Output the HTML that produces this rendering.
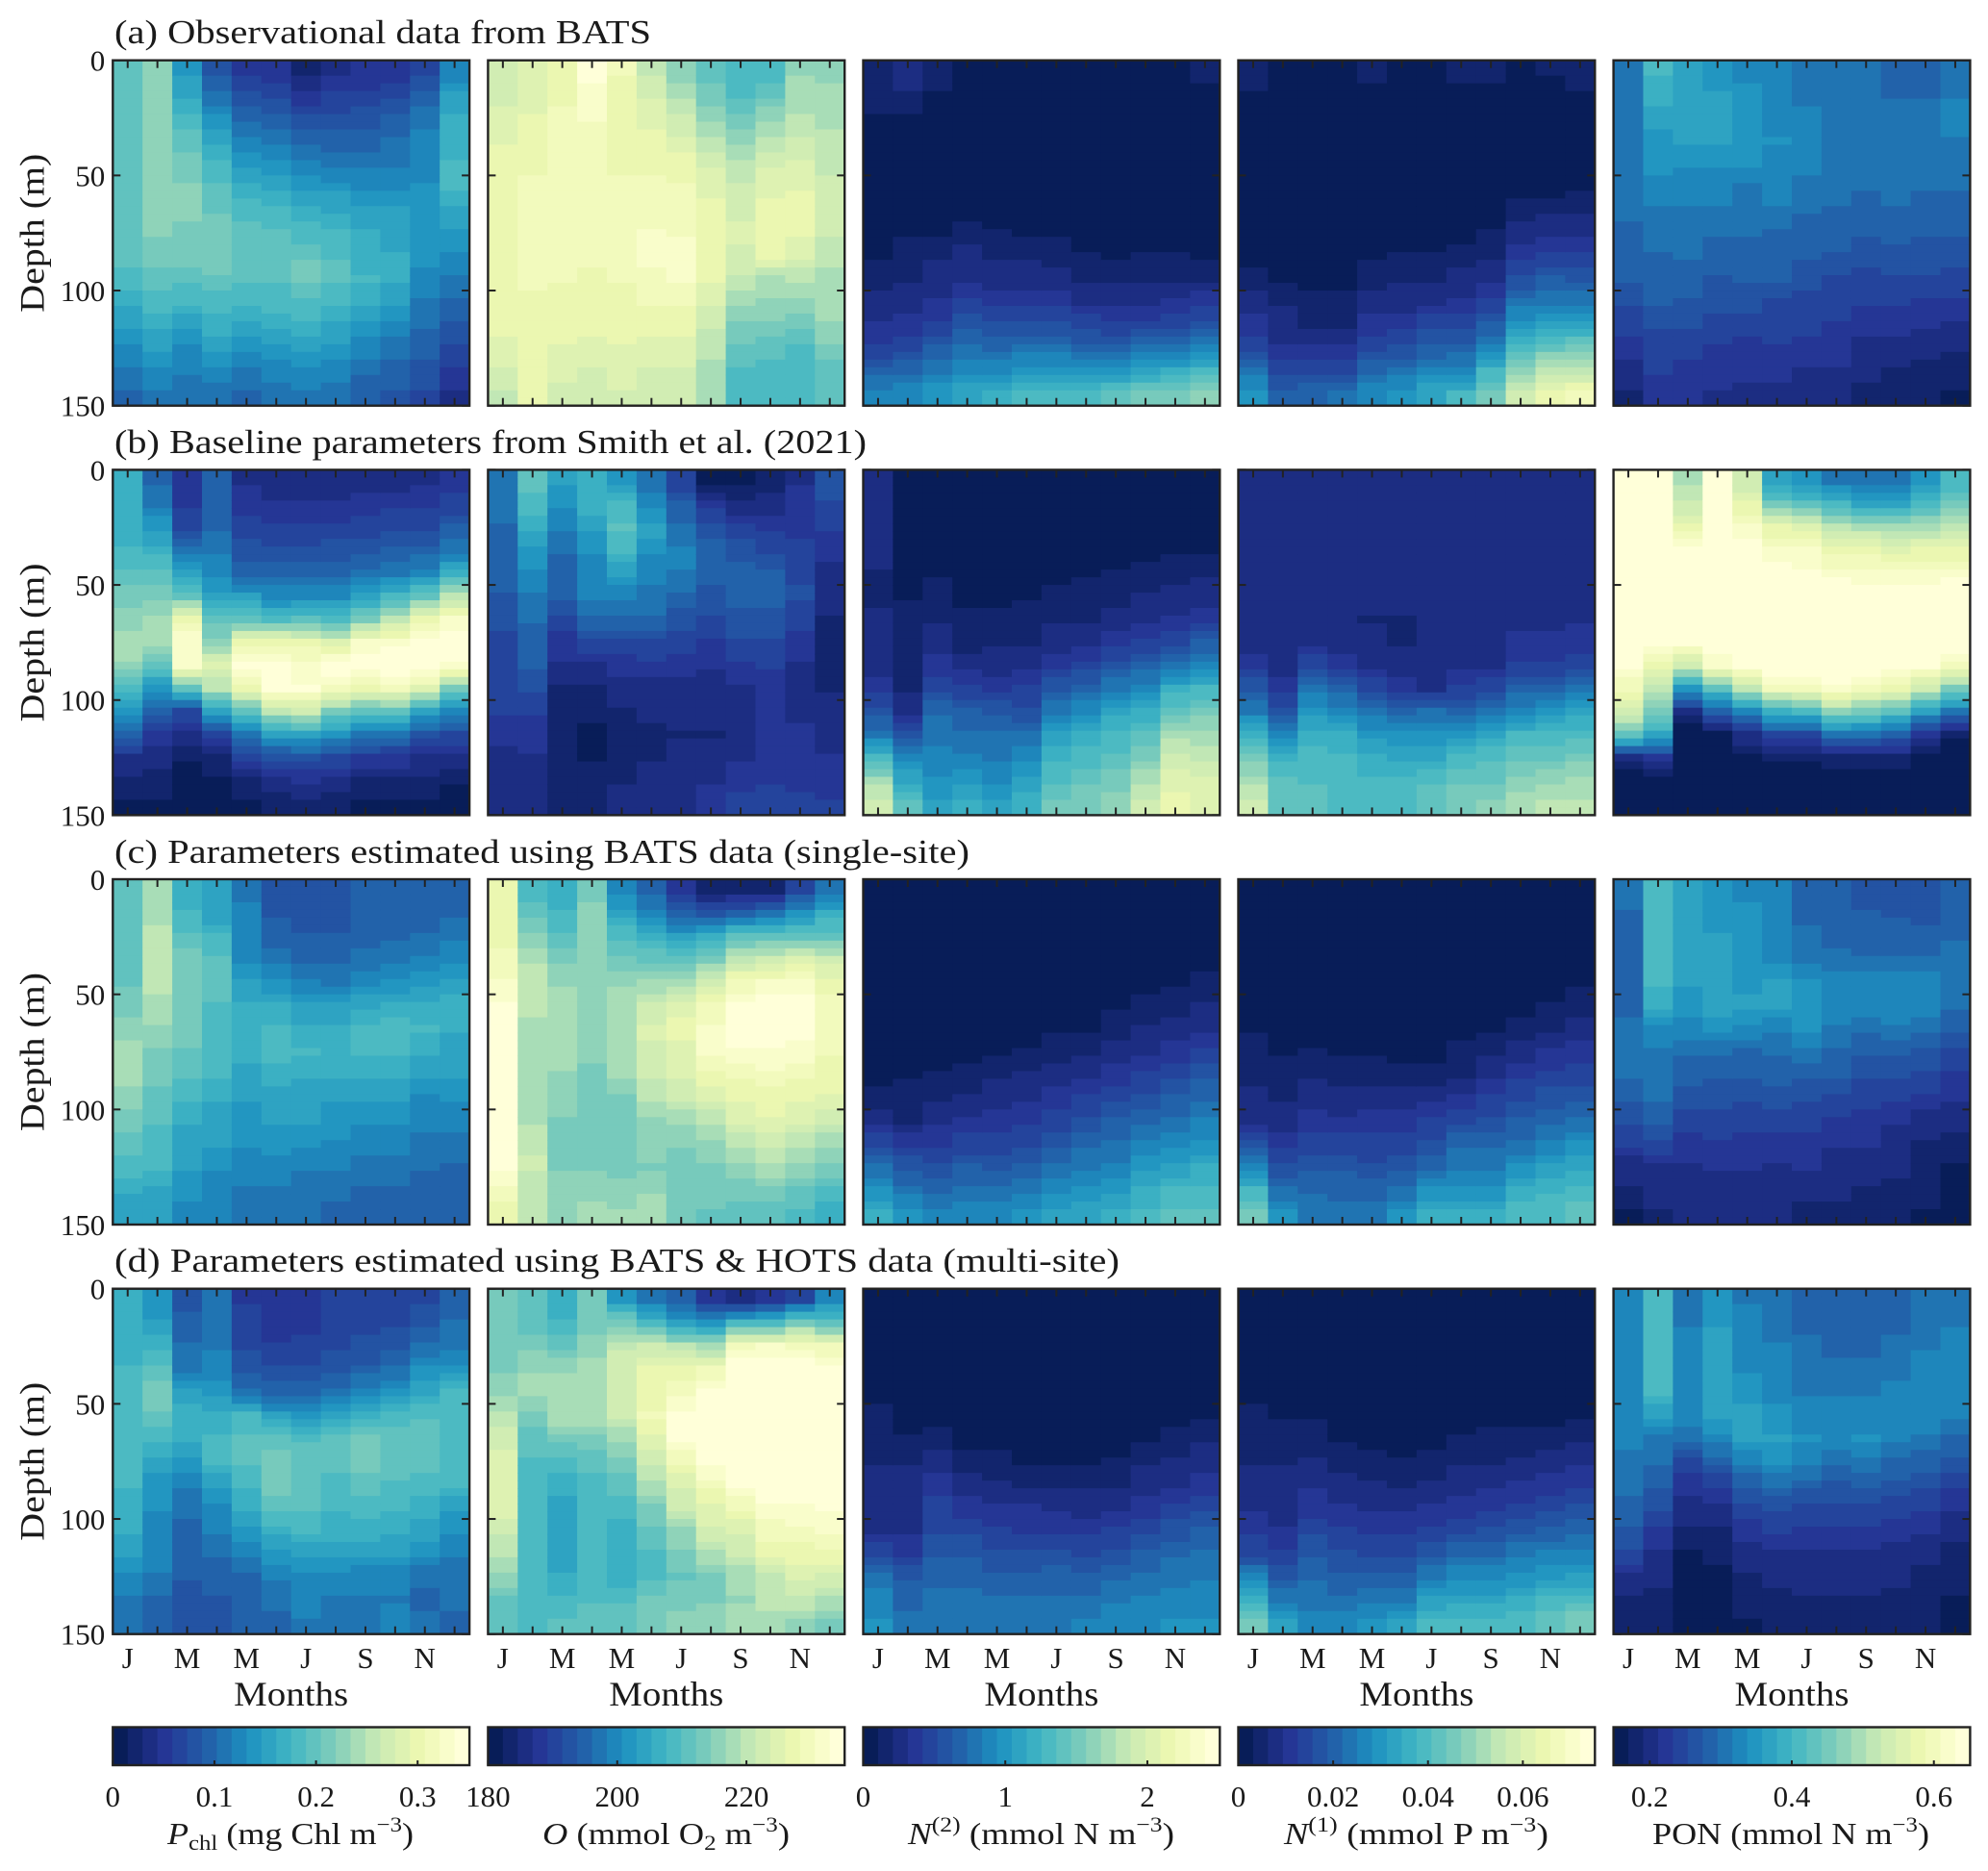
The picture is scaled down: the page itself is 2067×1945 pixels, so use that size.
<!DOCTYPE html>
<html>
<head>
<meta charset="utf-8">
<title>Observed and modelled depth–month heatmaps</title>
<style>
html,body{margin:0;padding:0;background:#fff;}
svg{display:block;}
text{font-family:"Liberation Serif","DejaVu Serif",serif;fill:#1a1a1a;}
.title{font-size:35px;}
.cbt{font-size:32px;}
.it{font-style:italic;}
</style>
</head>
<body>
<svg id="fig" xmlns="http://www.w3.org/2000/svg" width="2067" height="1945" viewBox="0 0 2067 1945">
<rect width="2067" height="1945" fill="#fff"/>
<g id="panels"></g>
<g id="bars"></g>
<text class="title" x="119" y="45" textLength="558" lengthAdjust="spacingAndGlyphs">(a) Observational data from BATS</text>
<text class="title" x="119" y="471" textLength="782" lengthAdjust="spacingAndGlyphs">(b) Baseline parameters from Smith et al. (2021)</text>
<text class="title" x="119" y="897" textLength="889" lengthAdjust="spacingAndGlyphs">(c) Parameters estimated using BATS data (single-site)</text>
<text class="title" x="119" y="1322" textLength="1045" lengthAdjust="spacingAndGlyphs">(d) Parameters estimated using BATS &amp; HOTS data (multi-site)</text>
<text class="cbt" x="174" y="1917" textLength="256" lengthAdjust="spacingAndGlyphs"><tspan class="it">P</tspan><tspan font-size="22" dy="6">chl</tspan><tspan dy="-6"> (mg Chl m</tspan><tspan font-size="22" dy="-13">−3</tspan><tspan dy="13">)</tspan></text>
<text class="cbt" x="564" y="1917" textLength="257" lengthAdjust="spacingAndGlyphs"><tspan class="it">O</tspan><tspan> (mmol O</tspan><tspan font-size="22" dy="6">2</tspan><tspan dy="-6"> m</tspan><tspan font-size="22" dy="-13">−3</tspan><tspan dy="13">)</tspan></text>
<text class="cbt" x="944" y="1917" textLength="277" lengthAdjust="spacingAndGlyphs"><tspan class="it">N</tspan><tspan font-size="22" dy="-13">(2)</tspan><tspan dy="13"> (mmol N m</tspan><tspan font-size="22" dy="-13">−3</tspan><tspan dy="13">)</tspan></text>
<text class="cbt" x="1335" y="1917" textLength="275" lengthAdjust="spacingAndGlyphs"><tspan class="it">N</tspan><tspan font-size="22" dy="-13">(1)</tspan><tspan dy="13"> (mmol P m</tspan><tspan font-size="22" dy="-13">−3</tspan><tspan dy="13">)</tspan></text>
<text class="cbt" x="1718" y="1917" textLength="288" lengthAdjust="spacingAndGlyphs"><tspan>PON (mmol N m</tspan><tspan font-size="22" dy="-13">−3</tspan><tspan dy="13">)</tspan></text>
</svg>
<script>
// Heatmap values: one array per month (Jan..Dec), each holding 15 depth bins (0-10 m ... 140-150 m).
const monthTickLabels = ['J','M','M','J','S','N'];
const monthCount = 12;
const depthStep = 10;
const depthTicks = [0,50,100,150];
const variableNames = ['pchl','oxygen','n2','n1','pon'];
const colorbarMin = [0,180,0,0,0.149];
const colorbarMax = [0.351,235.2,2.51,0.0752,0.651];
const colorbarTicks = [[0,0.1,0.2,0.3],[180,200,220],[0,1,2],[0,0.02,0.04,0.06],[0.2,0.4,0.6]];
const colorLevels = 24;

const a1 = [[.58,.58,.58,.58,.58,.58,.58,.58,.56,.52,.47,.42,.36,.32,.28],[.63,.65,.66,.66,.66,.66,.64,.63,.6,.57,.52,.47,.42,.37,.32],[.4,.45,.52,.56,.6,.63,.63,.62,.6,.56,.5,.43,.37,.34,.3],[.24,.3,.38,.44,.5,.55,.58,.6,.6,.58,.52,.48,.42,.36,.3],[.16,.22,.28,.34,.4,.47,.52,.56,.56,.55,.5,.45,.38,.33,.29],[.13,.2,.27,.33,.38,.45,.5,.55,.56,.55,.52,.46,.4,.36,.3],[.08,.14,.21,.27,.34,.4,.47,.52,.58,.6,.54,.48,.42,.37,.32],[.11,.17,.22,.27,.32,.4,.45,.5,.54,.55,.5,.45,.4,.35,.3],[.13,.18,.23,.27,.32,.37,.42,.46,.48,.5,.46,.4,.35,.3,.27],[.14,.2,.25,.3,.33,.37,.42,.45,.46,.46,.42,.36,.31,.27,.24],[.2,.25,.32,.34,.36,.38,.39,.4,.39,.36,.33,.3,.27,.23,.2],[.34,.42,.46,.48,.5,.5,.45,.41,.37,.33,.28,.24,.2,.16,.12]];
const a2 = [[.76,.78,.8,.83,.85,.86,.87,.87,.87,.86,.85,.84,.82,.78,.74],[.8,.8,.84,.86,.87,.88,.88,.88,.88,.88,.87,.86,.85,.85,.87],[.86,.87,.88,.89,.89,.89,.89,.89,.88,.88,.86,.85,.83,.8,.78],[.97,.94,.92,.9,.89,.89,.89,.89,.88,.87,.85,.84,.82,.78,.76],[.88,.86,.85,.86,.87,.88,.89,.9,.89,.88,.86,.85,.83,.82,.78],[.74,.78,.82,.85,.87,.88,.9,.92,.92,.91,.88,.85,.82,.78,.76],[.64,.7,.76,.8,.86,.88,.9,.91,.93,.92,.88,.85,.82,.78,.76],[.56,.6,.66,.72,.78,.82,.84,.85,.85,.84,.8,.76,.72,.7,.67],[.5,.54,.6,.66,.72,.76,.78,.8,.78,.74,.68,.62,.58,.54,.52],[.52,.58,.66,.72,.78,.82,.85,.85,.84,.7,.66,.62,.56,.52,.52],[.66,.68,.72,.76,.8,.83,.84,.84,.8,.72,.66,.6,.54,.52,.52],[.65,.68,.7,.72,.74,.76,.76,.76,.72,.7,.68,.66,.62,.56,.55]];
const a3 = [[.08,.06,.04,.02,.02,.02,.02,.02,.03,.07,.1,.13,.18,.26,.36],[.09,.08,.04,.04,.03,.02,.04,.04,.07,.08,.1,.14,.2,.28,.36],[.05,.04,.04,.02,.02,.02,.03,.04,.08,.1,.13,.18,.25,.33,.4],[.04,.02,0,0,0,0,.02,.07,.1,.12,.17,.24,.3,.37,.44],[.04,.02,0,0,0,0,0,.05,.08,.1,.14,.22,.28,.36,.46],[.03,0,0,0,0,0,0,.04,.08,.1,.14,.22,.3,.4,.5],[.03,0,0,0,0,0,0,.03,.07,.1,.15,.22,.3,.4,.52],[.03,0,0,0,0,0,0,0,.05,.08,.12,.2,.26,.38,.54],[.03,0,0,0,0,0,0,0,.04,.08,.12,.18,.26,.4,.56],[.03,0,0,0,0,0,0,0,.05,.08,.12,.18,.3,.44,.6],[.04,0,0,0,0,0,0,0,.05,.08,.13,.2,.32,.46,.62],[.07,.02,0,0,0,0,0,0,.03,.08,.15,.22,.34,.5,.66]];
const a4 = [[.07,.04,.02,0,0,0,0,0,.02,.06,.1,.14,.2,.3,.4],[.04,.03,0,0,0,0,0,0,.02,.03,.08,.1,.13,.2,.26],[.04,.03,.02,0,0,0,0,0,.02,.03,.05,.08,.14,.2,.28],[.04,.02,0,0,0,0,0,0,0,.02,.06,.08,.14,.2,.3],[.05,.03,.02,0,0,0,0,.02,.03,.07,.1,.14,.2,.28,.36],[.04,.03,0,0,0,0,0,.02,.05,.08,.1,.15,.22,.3,.4],[.04,.03,0,0,0,0,0,.02,.05,.08,.12,.2,.26,.35,.45],[.05,.03,.02,0,0,0,0,.03,.06,.1,.13,.2,.27,.36,.5],[.05,.03,.02,0,0,0,.02,.05,.08,.12,.18,.25,.36,.5,.6],[.04,.02,0,0,0,.02,.07,.1,.16,.22,.3,.4,.52,.65,.78],[.05,.02,0,0,0,.02,.08,.12,.18,.25,.32,.45,.58,.72,.86],[.07,.04,0,0,0,.03,.08,.12,.17,.24,.32,.44,.6,.74,.88]];
const a5 = [[.3,.3,.31,.33,.33,.32,.31,.28,.27,.25,.22,.18,.15,.1,.08],[.5,.47,.44,.4,.38,.37,.33,.32,.28,.28,.25,.22,.18,.17,.14],[.42,.42,.42,.42,.38,.36,.33,.3,.3,.27,.24,.22,.17,.16,.15],[.38,.42,.42,.42,.38,.36,.33,.3,.27,.24,.22,.2,.16,.14,.12],[.37,.38,.38,.38,.38,.33,.32,.3,.27,.25,.23,.18,.15,.14,.11],[.34,.36,.36,.38,.36,.34,.33,.28,.27,.25,.2,.18,.16,.14,.1],[.32,.32,.34,.34,.34,.32,.3,.27,.25,.22,.2,.18,.15,.12,.1],[.3,.3,.32,.33,.33,.3,.29,.27,.24,.2,.18,.16,.14,.12,.1],[.3,.3,.3,.31,.31,.3,.27,.25,.22,.19,.17,.14,.11,.1,.06],[.28,.29,.3,.3,.31,.31,.29,.26,.23,.2,.17,.14,.11,.08,.06],[.29,.29,.31,.31,.31,.3,.27,.25,.23,.2,.16,.13,.1,.07,.05],[.33,.33,.34,.33,.32,.3,.27,.25,.22,.2,.15,.12,.09,.06,.04]];

const b1 = [[.46,.46,.47,.5,.55,.6,.64,.68,.66,.5,.38,.28,.12,.07,.03],[.28,.33,.4,.48,.55,.62,.68,.68,.56,.4,.27,.14,.1,.07,.04],[.14,.16,.2,.3,.42,.58,.87,.95,.92,.55,.2,.1,.05,.02,.01],[.28,.28,.28,.33,.36,.42,.55,.65,.8,.72,.42,.2,.08,.03,.01],[.12,.15,.19,.22,.28,.42,.56,.85,.96,.85,.55,.32,.18,.08,.04],[.09,.13,.18,.22,.28,.36,.52,.87,.98,.96,.72,.42,.22,.12,.05],[.09,.13,.18,.22,.28,.36,.55,.84,.95,.96,.75,.45,.22,.13,.06],[.1,.13,.18,.23,.28,.37,.52,.8,1,.9,.62,.38,.2,.1,.06],[.1,.14,.19,.24,.3,.42,.62,.92,1,.85,.55,.32,.16,.08,.04],[.11,.15,.2,.25,.33,.5,.72,.95,1,.9,.55,.3,.15,.08,.03],[.12,.16,.2,.27,.36,.58,.86,1,1,.82,.44,.22,.11,.07,.03],[.14,.18,.25,.32,.48,.72,.92,1,.95,.62,.35,.2,.11,.05,.02]];
const b2 = [[.3,.3,.29,.28,.28,.24,.22,.2,.2,.2,.17,.14,.1,.1,.1],[.56,.52,.46,.4,.37,.33,.3,.25,.25,.22,.17,.14,.12,.1,.09],[.42,.38,.34,.3,.25,.25,.2,.14,.12,.08,.06,.05,.05,.06,.08],[.47,.48,.42,.38,.36,.34,.28,.2,.12,.08,.05,.03,.04,.06,.08],[.38,.52,.55,.5,.42,.35,.28,.2,.14,.1,.08,.05,.05,.08,.09],[.3,.36,.44,.38,.34,.32,.28,.2,.15,.11,.09,.07,.08,.1,.1],[.18,.26,.3,.34,.33,.28,.23,.18,.14,.11,.1,.08,.09,.1,.12],[.03,.14,.22,.28,.26,.24,.2,.16,.13,.11,.09,.08,.1,.12,.14],[.03,.1,.17,.23,.28,.26,.24,.2,.16,.12,.12,.11,.12,.15,.18],[.05,.1,.15,.2,.25,.26,.24,.2,.17,.14,.13,.13,.15,.16,.18],[.12,.16,.16,.17,.2,.22,.18,.15,.12,.12,.12,.13,.15,.16,.17],[.23,.2,.17,.15,.11,.09,.08,.07,.07,.08,.09,.1,.13,.15,.17]];
const b3 = [[.09,.09,.09,.09,.08,.07,.09,.09,.1,.15,.22,.32,.5,.68,.78],[0,0,.01,.03,.04,.04,.05,.08,.07,.08,.12,.22,.35,.45,.55],[0,0,.02,.03,.04,.05,.08,.1,.14,.2,.28,.32,.35,.38,.42],[.04,.03,.03,.03,.03,.03,.05,.07,.1,.18,.25,.3,.34,.4,.46],[0,0,0,.02,.03,.03,.05,.08,.1,.16,.24,.3,.33,.36,.44],[0,0,0,.02,.03,.04,.06,.08,.12,.17,.22,.3,.36,.42,.48],[0,0,0,.02,.03,.06,.08,.1,.16,.24,.32,.42,.48,.54,.6],[0,0,0,.02,.04,.06,.08,.12,.18,.28,.36,.46,.52,.58,.62],[0,0,.02,.02,.05,.07,.1,.14,.22,.33,.44,.5,.56,.6,.64],[0,0,.02,.03,.06,.09,.12,.17,.26,.36,.46,.56,.62,.7,.76],[0,0,.02,.03,.07,.1,.13,.2,.32,.46,.58,.7,.76,.82,.84],[0,0,.02,.04,.08,.1,.14,.25,.36,.5,.6,.68,.74,.8,.82]];
const b4 = [[.12,.12,.12,.12,.11,.11,.11,.1,.15,.24,.33,.48,.62,.68,.78],[.09,.09,.09,.09,.09,.09,.09,.09,.1,.15,.22,.36,.48,.55,.58],[.09,.09,.09,.09,.09,.09,.1,.12,.2,.3,.4,.48,.52,.54,.55],[.09,.09,.09,.09,.09,.09,.09,.1,.15,.26,.36,.46,.5,.52,.54],[.12,.12,.1,.09,.09,.09,.08,.09,.1,.2,.3,.4,.48,.5,.54],[.12,.12,.12,.11,.1,.1,.08,.08,.1,.14,.28,.4,.44,.5,.54],[.09,.09,.09,.1,.1,.1,.09,.09,.09,.12,.3,.38,.44,.54,.56],[.09,.09,.09,.1,.1,.1,.1,.11,.12,.17,.28,.38,.5,.58,.6],[.09,.09,.09,.1,.1,.1,.1,.11,.12,.2,.3,.42,.54,.58,.64],[.09,.09,.09,.1,.1,.1,.12,.13,.17,.27,.36,.5,.58,.64,.7],[.09,.09,.09,.09,.1,.1,.12,.13,.17,.28,.4,.5,.58,.66,.72],[.09,.09,.09,.09,.09,.09,.12,.14,.2,.32,.44,.52,.6,.68,.72]];
const b5 = [[1,1,1,1,1,1,1,1,.98,.88,.78,.58,.1,0,0],[1,1,1,1,1,1,1,.97,.86,.72,.6,.45,.15,0,0],[.7,.75,.85,1,1,1,1,.98,.75,.4,.12,0,0,0,0],[1,1,1,1,1,1,1,1,.92,.55,.25,.03,0,0,0],[.75,.85,.92,1,1,1,1,1,1,.72,.35,.12,.02,0,0],[.42,.6,.84,.92,1,1,1,1,1,.88,.48,.2,.06,0,0],[.38,.55,.8,.92,.97,1,1,1,1,.88,.5,.2,.06,0,0],[.32,.5,.72,.86,.94,1,1,1,1,.95,.65,.3,.08,0,0],[.3,.45,.7,.85,.93,1,1,1,1,.9,.6,.3,.07,0,0],[.3,.45,.68,.82,.93,1,1,1,1,.85,.55,.25,.08,0,0],[.38,.52,.7,.84,.92,1,1,1,.98,.75,.42,.14,.02,0,0],[.5,.6,.72,.84,.94,1,1,1,.9,.62,.32,.06,0,0,0]];

const c1 = [[.57,.56,.56,.58,.58,.6,.64,.68,.68,.64,.6,.56,.52,.46,.44],[.7,.7,.72,.72,.72,.7,.66,.62,.6,.57,.55,.52,.5,.44,.42],[.48,.5,.55,.6,.62,.62,.6,.58,.55,.5,.46,.44,.42,.38,.37],[.42,.42,.5,.55,.56,.54,.53,.52,.5,.46,.44,.42,.38,.36,.35],[.32,.34,.34,.37,.42,.46,.47,.47,.44,.42,.4,.38,.35,.33,.32],[.24,.24,.27,.31,.38,.46,.5,.52,.47,.44,.42,.39,.35,.33,.32],[.22,.24,.25,.28,.34,.43,.47,.5,.46,.44,.42,.38,.34,.31,.3],[.22,.22,.25,.28,.32,.42,.47,.47,.46,.42,.4,.37,.34,.3,.28],[.25,.25,.28,.3,.36,.45,.5,.5,.46,.43,.38,.35,.32,.28,.26],[.25,.25,.28,.33,.38,.48,.52,.5,.46,.43,.38,.34,.32,.28,.25],[.25,.26,.3,.34,.4,.47,.5,.46,.42,.37,.34,.32,.3,.27,.25],[.26,.28,.32,.36,.42,.48,.46,.44,.42,.38,.34,.32,.28,.26,.25]];
const c2 = [[.85,.85,.87,.88,.92,.96,.98,.99,.99,.99,.99,.98,.96,.9,.85],[.52,.58,.64,.7,.74,.72,.7,.68,.68,.68,.7,.74,.76,.72,.74],[.46,.5,.56,.62,.66,.68,.68,.68,.66,.64,.62,.62,.62,.64,.66],[.6,.64,.64,.63,.63,.63,.64,.66,.6,.6,.6,.62,.62,.64,.68],[.36,.42,.54,.6,.66,.7,.7,.7,.68,.62,.62,.62,.62,.63,.68],[.26,.36,.48,.58,.68,.76,.8,.78,.76,.72,.66,.64,.62,.66,.68],[.14,.27,.42,.58,.7,.82,.84,.82,.8,.76,.68,.63,.6,.6,.62],[.06,.24,.48,.62,.78,.88,.92,.92,.86,.8,.72,.66,.62,.6,.58],[.06,.28,.55,.74,.88,.98,1,.95,.88,.84,.8,.72,.66,.6,.56],[.07,.3,.56,.78,.92,1,1,.95,.9,.86,.82,.76,.7,.62,.56],[.2,.38,.58,.82,.92,.98,.98,.94,.88,.84,.8,.72,.66,.58,.54],[.32,.46,.58,.76,.86,.9,.9,.88,.86,.82,.76,.68,.62,.52,.48]];
const c3 = [[0,0,0,0,0,0,0,0,.03,.05,.1,.2,.3,.38,.48],[0,0,0,0,0,0,0,.02,.03,.07,.08,.16,.24,.3,.4],[0,0,0,0,0,0,.02,.02,.05,.08,.12,.16,.22,.28,.34],[0,0,0,0,0,0,0,.02,.06,.09,.14,.18,.25,.3,.36],[0,0,0,0,0,0,.02,.03,.08,.1,.14,.18,.24,.3,.36],[0,0,0,0,0,0,.02,.05,.09,.12,.16,.2,.26,.32,.4],[0,0,0,0,0,.02,.03,.07,.1,.14,.18,.24,.3,.36,.42],[0,0,0,0,0,.02,.04,.08,.12,.17,.22,.28,.33,.38,.44],[0,0,0,0,.02,.04,.06,.1,.14,.2,.26,.3,.34,.4,.46],[0,0,0,0,.02,.06,.09,.12,.18,.22,.28,.34,.4,.46,.5],[0,0,0,.02,.04,.07,.1,.14,.2,.25,.3,.36,.42,.5,.55],[0,0,0,.03,.05,.09,.12,.18,.24,.28,.34,.38,.46,.5,.56]];
const c4 = [[.03,.03,.03,.03,.03,.03,.04,.05,.07,.1,.12,.22,.35,.5,.6],[0,0,0,0,0,.01,.02,.04,.06,.08,.1,.16,.22,.3,.38],[0,0,0,0,0,0,.02,.05,.08,.1,.14,.18,.24,.28,.32],[0,0,0,0,0,0,0,.03,.07,.09,.14,.18,.24,.28,.3],[0,0,0,0,0,0,0,.03,.07,.1,.14,.18,.22,.27,.32],[0,0,0,0,0,0,0,.02,.06,.1,.14,.18,.23,.3,.38],[0,0,0,0,0,0,.01,.03,.06,.12,.18,.22,.28,.38,.48],[0,0,0,0,0,0,.03,.06,.08,.14,.2,.28,.32,.38,.46],[0,0,0,0,0,.02,.04,.08,.12,.17,.22,.28,.32,.38,.46],[0,0,0,0,0,.03,.06,.1,.15,.2,.25,.3,.38,.46,.52],[0,0,0,0,.02,.05,.08,.13,.18,.23,.28,.34,.42,.48,.54],[0,0,0,0,.04,.07,.1,.14,.18,.24,.3,.38,.44,.5,.58]];
const c5 = [[.3,.29,.28,.28,.28,.28,.3,.32,.3,.25,.22,.17,.1,.08,.04],[.52,.52,.52,.5,.5,.46,.37,.33,.3,.3,.26,.2,.12,.1,.08],[.42,.42,.42,.42,.42,.4,.36,.3,.26,.24,.18,.15,.12,.1,.09],[.38,.38,.42,.42,.44,.44,.38,.3,.26,.22,.19,.16,.13,.1,.09],[.37,.38,.38,.38,.4,.43,.36,.28,.25,.22,.18,.15,.13,.11,.09],[.36,.34,.34,.36,.42,.44,.34,.3,.27,.23,.18,.15,.12,.1,.09],[.27,.28,.3,.33,.38,.4,.4,.32,.26,.22,.18,.15,.13,.1,.07],[.25,.26,.28,.3,.36,.36,.33,.28,.25,.2,.15,.13,.11,.09,.07],[.24,.25,.27,.3,.36,.36,.3,.26,.22,.18,.15,.13,.1,.08,.07],[.23,.24,.27,.3,.36,.37,.33,.26,.22,.17,.13,.11,.09,.07,.07],[.24,.24,.26,.3,.36,.35,.3,.24,.2,.16,.1,.08,.06,.05,.04],[.25,.26,.28,.32,.33,.3,.26,.2,.16,.13,.09,.07,.04,.03,.02]];

const d1 = [[.48,.48,.48,.5,.52,.5,.5,.5,.5,.48,.46,.44,.36,.32,.3],[.4,.42,.48,.56,.6,.58,.52,.44,.4,.38,.36,.34,.33,.28,.27],[.24,.26,.3,.33,.42,.48,.46,.4,.34,.3,.28,.27,.25,.24,.22],[.3,.31,.33,.36,.4,.48,.5,.5,.42,.36,.34,.3,.27,.24,.21],[.16,.18,.2,.24,.3,.5,.55,.55,.5,.46,.4,.34,.28,.25,.25],[.14,.15,.17,.22,.27,.42,.56,.62,.62,.56,.48,.4,.34,.3,.28],[.14,.15,.18,.21,.27,.4,.54,.58,.58,.55,.5,.42,.36,.34,.33],[.17,.17,.2,.24,.3,.42,.55,.58,.52,.5,.48,.43,.36,.33,.33],[.18,.19,.22,.26,.36,.48,.6,.62,.56,.52,.48,.42,.34,.33,.33],[.18,.2,.24,.3,.38,.52,.58,.58,.54,.5,.46,.42,.34,.33,.34],[.2,.24,.3,.38,.44,.54,.56,.56,.52,.48,.44,.38,.3,.28,.3],[.25,.3,.32,.4,.5,.54,.54,.52,.5,.42,.38,.34,.3,.3,.28]];
const d2 = [[.62,.62,.62,.62,.64,.72,.78,.8,.82,.82,.76,.72,.66,.58,.58],[.55,.56,.62,.66,.68,.62,.56,.54,.52,.52,.52,.5,.5,.5,.54],[.46,.5,.58,.66,.7,.7,.6,.52,.48,.44,.44,.44,.46,.5,.56],[.62,.6,.64,.7,.7,.7,.62,.56,.52,.5,.5,.5,.5,.54,.58],[.4,.62,.74,.78,.78,.76,.68,.62,.56,.52,.48,.46,.46,.54,.58],[.32,.5,.76,.84,.86,.88,.82,.76,.7,.62,.58,.54,.54,.6,.62],[.28,.42,.72,.84,.9,.97,.97,.88,.8,.75,.65,.62,.58,.6,.64],[.15,.4,.68,.88,.96,1,1,.96,.9,.82,.78,.7,.6,.62,.66],[.12,.5,.9,1,1,1,1,1,.96,.88,.8,.76,.68,.66,.7],[.14,.52,.92,1,1,1,1,1,1,.94,.9,.84,.74,.72,.7],[.2,.62,.9,1,1,1,1,1,.98,.95,.9,.86,.8,.74,.66],[.36,.55,.88,.97,1,1,1,1,1,.96,.92,.86,.78,.7,.62]];
const d3 = [[.03,.03,.03,.03,.03,.05,.08,.08,.1,.11,.12,.2,.3,.35,.38],[0,0,0,0,0,.02,.05,.08,.1,.1,.12,.16,.24,.28,.3],[0,0,0,0,0,.02,.06,.1,.14,.18,.2,.24,.28,.3,.32],[0,0,0,0,0,0,.03,.06,.1,.14,.2,.24,.28,.3,.3],[0,0,0,0,0,0,.02,.06,.09,.13,.18,.22,.26,.3,.3],[0,0,0,0,0,0,0,.03,.08,.13,.16,.22,.26,.3,.32],[0,0,0,0,0,0,0,.03,.08,.12,.15,.22,.27,.3,.32],[0,0,0,0,0,0,0,.04,.08,.11,.15,.2,.26,.3,.34],[0,0,0,0,0,0,.02,.05,.08,.12,.17,.22,.28,.32,.36],[0,0,0,0,0,0,.03,.08,.1,.14,.2,.26,.3,.34,.36],[0,0,0,0,0,.02,.06,.09,.12,.18,.23,.28,.32,.35,.38],[0,0,0,0,0,.04,.08,.1,.14,.2,.26,.3,.33,.36,.38]];
const d4 = [[.03,.03,.03,.03,.03,.06,.07,.08,.1,.12,.16,.2,.34,.46,.6],[.03,.03,.03,.03,.02,.04,.07,.08,.1,.1,.13,.18,.24,.32,.42],[.03,.03,.03,.03,.02,.04,.06,.09,.12,.14,.2,.24,.28,.32,.34],[0,0,0,0,0,0,.04,.07,.1,.13,.18,.22,.26,.3,.36],[0,0,0,0,0,0,.02,.06,.09,.11,.16,.2,.26,.32,.38],[0,0,0,0,0,0,.02,.05,.08,.11,.16,.2,.25,.33,.42],[0,0,0,0,0,0,.03,.06,.09,.13,.18,.24,.32,.42,.52],[0,0,0,0,0,0,.05,.08,.1,.14,.2,.28,.36,.44,.52],[0,0,0,0,0,.02,.06,.08,.12,.16,.22,.28,.36,.44,.5],[0,0,0,0,0,.03,.06,.09,.13,.17,.24,.32,.38,.46,.52],[0,0,0,0,0,.03,.06,.1,.14,.2,.26,.34,.4,.5,.58],[0,0,0,0,0,.03,.08,.12,.16,.22,.28,.35,.42,.52,.62]];
const d5 = [[.36,.36,.36,.37,.37,.37,.35,.32,.3,.28,.24,.2,.12,.08,.05],[.54,.52,.52,.52,.5,.42,.33,.3,.26,.22,.16,.12,.1,.07,.06],[.33,.33,.35,.37,.37,.35,.3,.2,.14,.1,.08,.04,.02,0,0],[.38,.41,.43,.43,.42,.42,.36,.27,.17,.12,.08,.05,.03,0,0],[.33,.34,.36,.37,.4,.44,.44,.34,.26,.2,.14,.1,.08,.05,.04],[.3,.3,.34,.35,.36,.4,.42,.38,.3,.22,.17,.12,.09,.07,.05],[.26,.28,.3,.32,.33,.36,.38,.34,.27,.2,.16,.12,.09,.08,.07],[.25,.26,.28,.31,.32,.36,.35,.3,.24,.2,.15,.12,.09,.08,.07],[.27,.27,.28,.3,.33,.35,.38,.33,.27,.2,.16,.12,.1,.08,.06],[.28,.28,.3,.32,.35,.36,.34,.28,.24,.18,.14,.11,.09,.07,.06],[.3,.3,.33,.34,.36,.36,.32,.27,.22,.17,.13,.1,.07,.06,.05],[.33,.33,.34,.36,.36,.34,.28,.24,.18,.13,.09,.07,.05,.04,.03]];

const rowNames = ['a','b','c','d'];
const grid = [[a1,a2,a3,a4,a5],[b1,b2,b3,b4,b5],[c1,c2,c3,c4,c5],[d1,d2,d3,d4,d5]];

const NS = 'http://www.w3.org/2000/svg';
const panelLefts = [117.3,507.4,897.5,1287.5,1677.6];
const panelWidth = 370.8;
const panelTops = [62.7,488.4,914,1339.7];
const panelHeight = 359;
const frameColor = '#222';
const shadingSteps = 3;
const anchors = [[8,29,88],[37,52,148],[34,94,168],[29,145,192],[65,182,196],[127,205,187],[199,233,180],[237,248,177],[255,255,217]];

function make(tag, attrs, parent, txt){
  const el = document.createElementNS(NS, tag);
  for(const k in attrs) el.setAttribute(k, attrs[k]);
  if(txt !== undefined) el.textContent = txt;
  parent.appendChild(el);
  return el;
}
function colorFor(t){
  const c = Math.max(0, Math.min(1, t));
  const lvl = Math.min(colorLevels - 1, Math.floor(c * colorLevels)) / (colorLevels - 1);
  const p = lvl * (anchors.length - 1);
  const i = Math.min(anchors.length - 2, Math.floor(p));
  const f = p - i;
  const rgb = [0,1,2].map(n => Math.round(anchors[i][n] + (anchors[i+1][n] - anchors[i][n]) * f));
  return 'rgb(' + rgb.join(',') + ')';
}
function xScale(left, month){ return left + month / monthCount * panelWidth; }
function yScale(top, depth){ return top + depth / 150 * panelHeight; }
function cbScale(v, col){ return panelLefts[col] + (v - colorbarMin[col]) / (colorbarMax[col] - colorbarMin[col]) * panelWidth; }
// Vertical shading: the colour of a strip inside a depth bin blends toward the neighbouring bin.
function shadeAt(col, k, j){
  const pos = (j + 0.5) / shadingSteps - 0.5;
  const other = pos < 0 ? Math.max(0, k - 1) : Math.min(col.length - 1, k + 1);
  const w = Math.abs(pos);
  return col[k] * (1 - w) + col[other] * w;
}

const panelsRoot = document.getElementById('panels');
grid.forEach(function(row, r){
  const top = panelTops[r];
  row.forEach(function(series, c){
    const left = panelLefts[c];
    const g = make('g', {}, panelsRoot);
    
    
    series.forEach(function(col, m){
      col.forEach(function(v, k){
        const x0 = xScale(left, m), x1 = xScale(left, m + 1);
        for(let j = 0; j < shadingSteps; j++){
          const y0 = yScale(top, (k + j / shadingSteps) * depthStep);
          const y1 = yScale(top, (k + (j + 1) / shadingSteps) * depthStep);
          const last = k === col.length - 1 && j === shadingSteps - 1;
          const cell = make('rect', {x:x0, y:y0, width:x1 - x0 + (m < monthCount - 1 ? 0.6 : 0), height:y1 - y0 + (last ? 0 : 0.6), fill:colorFor(shadeAt(col, k, j))}, g);
          
          
        }
      });
    });
    const bottom = top + panelHeight, right = left + panelWidth;
    for(let m = 0; m < monthCount; m++){
      const tx = xScale(left, m + 0.5);
      const t1 = make('line', {x1:tx, x2:tx, y1:top, y2:top + 8, stroke:frameColor, 'stroke-width':2}, g);
      
      
      const t2 = make('line', {x1:tx, x2:tx, y1:bottom, y2:bottom - 8, stroke:frameColor, 'stroke-width':2}, g);
      
      
    }
    depthTicks.forEach(function(d){
      const ty = yScale(top, d);
      const t1 = make('line', {x1:left, x2:left + 8, y1:ty, y2:ty, stroke:frameColor, 'stroke-width':2}, g);
      
      
      const t2 = make('line', {x1:right, x2:right - 8, y1:ty, y2:ty, stroke:frameColor, 'stroke-width':2}, g);
      
      
      if(c === 0){
        const lab = make('text', {x:left - 8, y:ty + 11, 'text-anchor':'end', 'font-size':31}, g, String(d));
        
        
      }
    });
    const frame = make('rect', {x:left, y:top, width:panelWidth, height:panelHeight, fill:'none', stroke:frameColor, 'stroke-width':2.4}, g);
    
    
    if(c === 0){
      const cy = top + panelHeight / 2;
      const yl = make('text', {x:0, y:0, transform:'translate(45.5 ' + cy + ') rotate(-90)', 'text-anchor':'middle', 'font-size':36, textLength:165, lengthAdjust:'spacingAndGlyphs'}, g, 'Depth (m)');
      
      
    }
    if(r === grid.length - 1){
      monthTickLabels.forEach(function(lbl, i){
        const ml = make('text', {x:xScale(left, i * 2 + 0.5), y:1734, 'text-anchor':'middle', 'font-size':31}, g, lbl);
        
        
      });
      const xl = make('text', {x:left + panelWidth / 2, y:1773, 'text-anchor':'middle', 'font-size':36, textLength:119, lengthAdjust:'spacingAndGlyphs'}, g, 'Months');
      
      
    }
  });
});

const barsRoot = document.getElementById('bars');
const barTop = 1795.5, barHeight = 39.5;
variableNames.forEach(function(name, c){
  const g = make('g', {}, barsRoot);
  
  
  const left = panelLefts[c];
  for(let i = 0; i < colorLevels; i++){
    const sw = make('rect', {x:left + i / colorLevels * panelWidth, y:barTop, width:panelWidth / colorLevels + (i < colorLevels - 1 ? 0.6 : 0), height:barHeight, fill:colorFor((i + 0.5) / colorLevels)}, g);
    
    
  }
  colorbarTicks[c].forEach(function(v){
    const tx = cbScale(v, c);
    const tick = make('line', {x1:tx, x2:tx, y1:barTop + barHeight, y2:barTop + barHeight - 5, stroke:frameColor, 'stroke-width':2}, g);
    
    
    const lab = make('text', {x:tx, y:1878, 'text-anchor':'middle', 'font-size':31}, g, String(v));
    
    
  });
  const fr = make('rect', {x:left, y:barTop, width:panelWidth, height:barHeight, fill:'none', stroke:frameColor, 'stroke-width':2.4}, g);
  
  
});
</script>
</body>
</html>
